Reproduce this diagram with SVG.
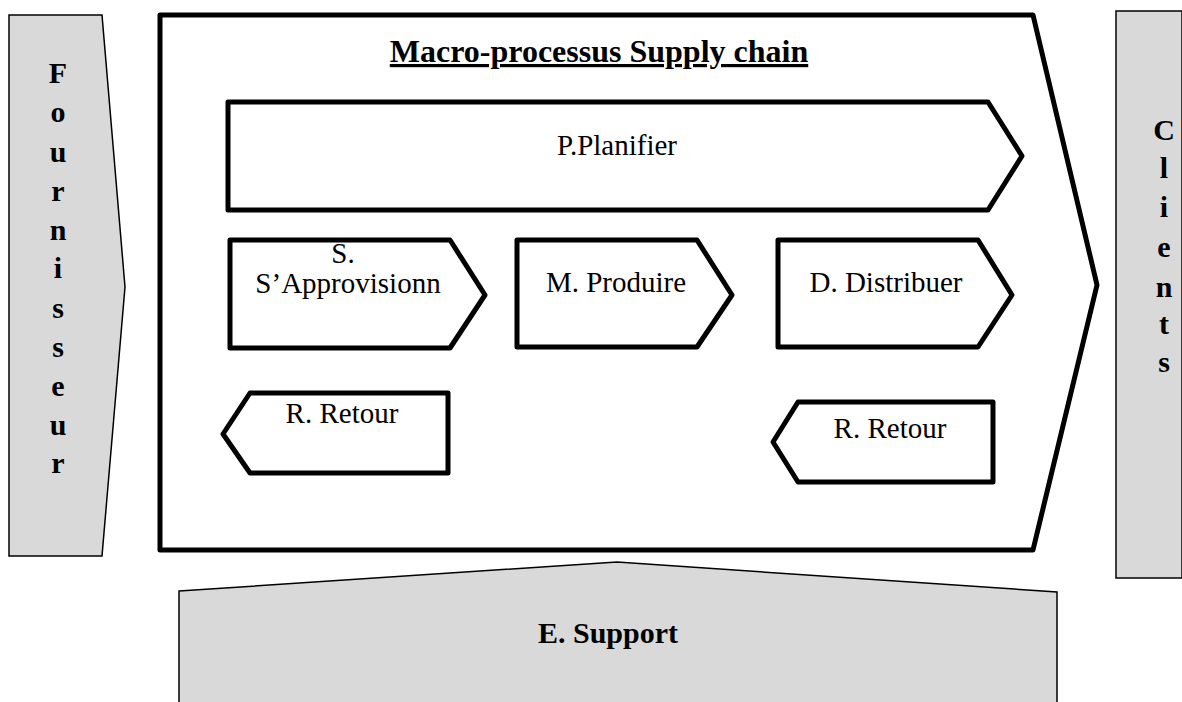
<svg xmlns="http://www.w3.org/2000/svg" width="1182" height="702" viewBox="0 0 1182 702">
  <style>
    .side { fill: #d9d9d9; stroke: #000; stroke-width: 1.5; stroke-linejoin: miter; }
    .proc { fill: #fff; stroke: #000; stroke-width: 5; stroke-linejoin: round; }
    .frame { fill: #fff; stroke: #000; stroke-width: 5; stroke-linejoin: round; }
    text { font-family: "Liberation Serif", "Times New Roman", serif; fill: #000; }
    .lbl { font-size: 29px; text-anchor: middle; }
    .bold { font-size: 30px; font-weight: bold; text-anchor: middle; }
    .title { font-size: 32px; font-weight: bold; text-anchor: middle; text-decoration: underline; }
  </style>

  <!-- Supplier chevron (left) -->
  <g id="fournisseur">
    <polygon class="side" points="9,15 102,15 125,287 102,556 9,556"/>
    <text class="bold" x="58" y="83">F</text>
    <text class="bold" x="58" y="122">o</text>
    <text class="bold" x="58" y="162">u</text>
    <text class="bold" x="58" y="201">r</text>
    <text class="bold" x="58" y="240">n</text>
    <text class="bold" x="58" y="278">i</text>
    <text class="bold" x="58" y="318">s</text>
    <text class="bold" x="58" y="357">s</text>
    <text class="bold" x="58" y="396">e</text>
    <text class="bold" x="58" y="435">u</text>
    <text class="bold" x="58" y="473">r</text>
  </g>

  <!-- Customer block (right) -->
  <g id="clients">
    <rect class="side" x="1116" y="11" width="66" height="567"/>
    <text class="bold" x="1164" y="140">C</text>
    <text class="bold" x="1164" y="178">l</text>
    <text class="bold" x="1164" y="217">i</text>
    <text class="bold" x="1164" y="257">e</text>
    <text class="bold" x="1164" y="297">n</text>
    <text class="bold" x="1164" y="334">t</text>
    <text class="bold" x="1164" y="372">s</text>
  </g>

  <!-- Main supply chain frame -->
  <g id="macro-processus">
    <polygon class="frame" points="160,15 1033,15 1097,285 1033,550 160,550"/>
    <text class="title" x="599" y="62">Macro-processus Supply chain</text>
  </g>

  <g id="planifier">
    <polygon class="proc" points="228,102 988,102 1022,156 988,210 228,210"/>
    <text class="lbl" x="617" y="155">P.Planifier</text>
  </g>

  <g id="approvisionner">
    <polygon class="proc" points="230,240 450,240 485,295 450,348 230,348"/>
    <text class="lbl" x="343" y="263">S.</text>
    <text class="lbl" x="348" y="293">S’Approvisionn</text>
  </g>

  <g id="produire">
    <polygon class="proc" points="517,240 697,240 732,295 697,347 517,347"/>
    <text class="lbl" x="616" y="292">M. Produire</text>
  </g>

  <g id="distribuer">
    <polygon class="proc" points="778,240 978,240 1012,295 978,347 778,347"/>
    <text class="lbl" x="886" y="292">D. Distribuer</text>
  </g>

  <g id="retour-amont">
    <polygon class="proc" points="223,434 250,393 448,393 448,473 250,473"/>
    <text class="lbl" x="342" y="423">R. Retour</text>
  </g>

  <g id="retour-aval">
    <polygon class="proc" points="773,442 798,402 993,402 993,482 798,482"/>
    <text class="lbl" x="890" y="438">R. Retour</text>
  </g>

  <!-- Support processes (bottom) -->
  <g id="support">
    <polygon class="side" points="179,591 617,562 1057,592 1057,704 179,704"/>
    <text class="bold" x="608" y="643">E. Support</text>
  </g>

  <g id="connectors"></g>
</svg>
